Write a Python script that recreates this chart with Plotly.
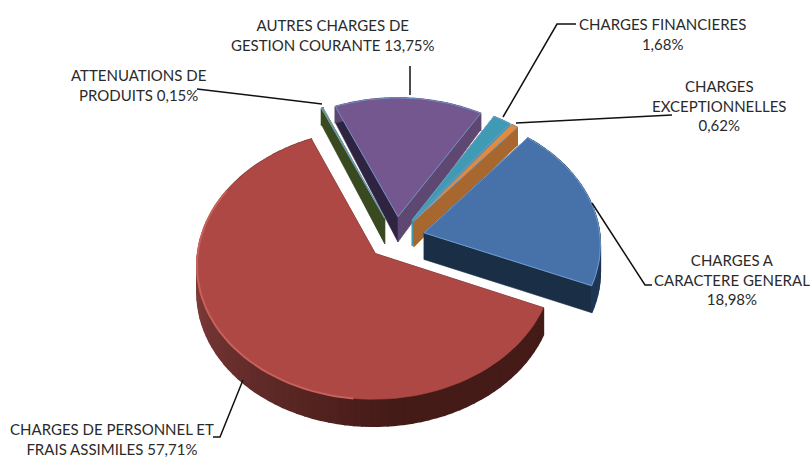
import math
import plotly.graph_objects as go

# ---- data ----
categories = ["CHARGES A CARACTERE GENERAL", "CHARGES DE PERSONNEL ET FRAIS ASSIMILES",
              "ATTENUATIONS DE PRODUITS", "AUTRES CHARGES DE GESTION COURANTE",
              "CHARGES FINANCIERES", "CHARGES EXCEPTIONNELLES"]
values = [18.98, 57.71, 0.15, 13.75, 1.68, 0.62]
label_text = ["CHARGES A<br>CARACTERE GENERAL<br>18,98%",
              "CHARGES DE PERSONNEL ET<br>FRAIS ASSIMILES 57,71%",
              "ATTENUATIONS DE<br>PRODUITS 0,15%",
              "AUTRES CHARGES DE<br>GESTION COURANTE 13,75%",
              "CHARGES FINANCIERES<br>1,68%",
              "CHARGES<br>EXCEPTIONNELLES<br>0,62%"]

# ---- styles ----
top_colors = ["#4672A9", "#AD4845", "#7E9A4A", "#74578F", "#3E9BB3", "#E48A3E"]
edge1_colors = ["#1A2E46", "#451B18", "#3A4A20", "#2E2340", "#2F7F94", "#A8672E"]
edge2_colors = ["#1A2E46", "#451B18", "#3A4A20", "#5E4871", "#3E9BB3", "#A8672E"]
outline_colors = ["#6F9BD0", None, "#6F9BC0", "#6F8FC0", "#6F9BC0", "#6F9BC0"]
draw_order = [3, 2, 4, 5, 0, 1]
label_pos = [(732, 279), (112, 439), (138, 85), (333, 35), (662, 34), (719, 105)]
leaders = [[(592, 203), (645, 285), (652, 285)],
           [(243, 380), (220, 437), (213, 437)],
           [(197, 89), (322, 104)],
           [(410, 66), (410, 95)],
           [(576, 24), (557, 24), (503, 117)],
           [(672, 115), (516, 123)]]

# ---- pie geometry ----
CX, CY, A, B, K = 396, 238, 176, 131.5, 0.08
PULL, START = 0.165, 39.5


def project(u, v, drop=False):
    w = 1 / (1 - K * v)
    d = 0
    if drop:
        d = 27 + 10 * min(v, 0)
    return CX + A * u * w, CY + B * v * w + d


def mix(c1, c2, t):
    a = [int(c1[i:i + 2], 16) for i in (1, 3, 5)]
    b = [int(c2[i:i + 2], 16) for i in (1, 3, 5)]
    return "#%02X%02X%02X" % tuple(round(x + (y - x) * t) for x, y in zip(a, b))


total = sum(values)
slices = []
theta = START
for val in values:
    span = val / total * 360
    slices.append((theta, theta + span))
    theta += span

fig = go.Figure()


def poly(pts, color, name=None, lw=0.6):
    fig.add_trace(go.Scatter(
        x=[p[0] for p in pts] + [pts[0][0]], y=[p[1] for p in pts] + [pts[0][1]],
        mode="lines", fill="toself", fillcolor=color,
        line=dict(color=color, width=lw), showlegend=False,
        hoverinfo="text" if name else "skip", text=name, hoveron="fills"))


def rim_color(i, deg):
    if i == 1:
        t = max(0.0, min(1.0, (deg - 175) / 85))
        return mix("#451B18", "#7E3B39", t)
    return edge2_colors[i] if i != 0 else "#1F3654"


for i in draw_order:
    t1, t2 = slices[i]
    mid = math.radians((t1 + t2) / 2)
    ax, ay = PULL * math.sin(mid), -PULL * math.cos(mid)
    n = max(2, int((t2 - t1) / 2.5))
    degs = [t1 + (t2 - t1) * j / n for j in range(n + 1)]
    uv = [(ax + math.sin(math.radians(d)), ay - math.cos(math.radians(d))) for d in degs]

    # radial walls
    poly([project(ax, ay), project(*uv[0]), project(*uv[0], drop=True), project(ax, ay, drop=True)], edge1_colors[i])
    poly([project(ax, ay), project(*uv[-1]), project(*uv[-1], drop=True), project(ax, ay, drop=True)], edge2_colors[i])
    # outer wall: a thick overlap hides seams between the shaded steps
    for j in range(n):
        poly([project(*uv[j]), project(*uv[j + 1]), project(*uv[j + 1], drop=True), project(*uv[j], drop=True)],
             rim_color(i, degs[j]), lw=1.5)
    # top face
    pts = [project(ax, ay)] + [project(*p) for p in uv]
    poly(pts, top_colors[i], f"{categories[i]}: {values[i]}%")
    if outline_colors[i]:
        fig.add_trace(go.Scatter(x=[p[0] for p in pts] + [pts[0][0]], y=[p[1] for p in pts] + [pts[0][1]],
                                 mode="lines", line=dict(color=outline_colors[i], width=1),
                                 showlegend=False, hoverinfo="skip"))
    else:
        arc = [project(*p) for p, d in zip(uv, degs) if 185 <= d <= 300]
        fig.add_trace(go.Scatter(x=[p[0] for p in arc], y=[p[1] for p in arc], mode="lines",
                                 line=dict(color="#C8605C", width=2), showlegend=False, hoverinfo="skip"))

for path in leaders:
    fig.add_trace(go.Scatter(x=[p[0] for p in path], y=[p[1] for p in path], mode="lines",
                             line=dict(color="#111111", width=1.5), showlegend=False, hoverinfo="skip"))

for txt, (lx, ly) in zip(label_text, label_pos):
    fig.add_annotation(x=lx, y=ly, xref="x", yref="y", text=txt, showarrow=False,
                       xanchor="center", yanchor="middle", align="center",
                       font=dict(family="Lato", size=15, color="#2A2A2A"))

fig.update_layout(width=810, height=457, margin=dict(l=0, r=0, t=0, b=0),
                  paper_bgcolor="white", plot_bgcolor="white", showlegend=False,
                  xaxis=dict(range=[0, 810], visible=False, fixedrange=True),
                  yaxis=dict(range=[457, 0], visible=False, fixedrange=True))
fig.write_html("out.html", config={"displayModeBar": False},
               post_script="document.body.style.margin='0';document.body.style.overflow='hidden';")
